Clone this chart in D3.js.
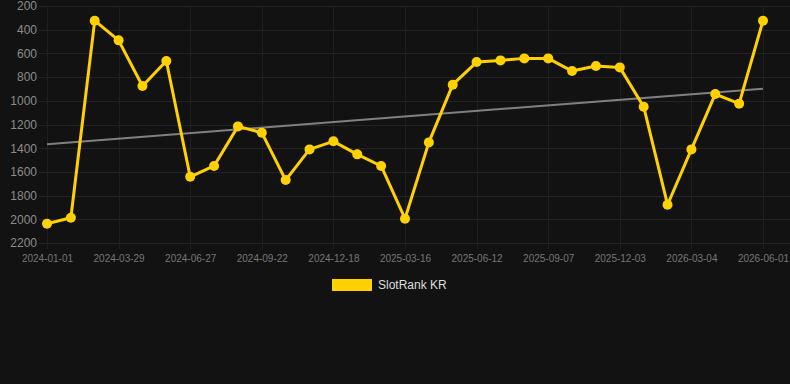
<!DOCTYPE html>
<html>
<head>
<meta charset="utf-8">
<script src="https://cdn.jsdelivr.net/npm/d3@7"></script>
<style>
  html, body { margin: 0; padding: 0; background: #121212; }
  svg { display: block; font-family: "Liberation Sans", Arial, sans-serif; }
</style>
</head>
<body>
<div id="chart"></div>
<script>
// SlotRank KR - monthly rank (lower is better, axis reversed)

const width = 790;
const height = 384;

// 31 monthly points, only every third one is labelled on the axis
const tickLabels = ["2024-01-01", "2024-03-29", "2024-06-27", "2024-09-22", "2024-12-18",
    "2025-03-16", "2025-06-12", "2025-09-07", "2025-12-03", "2026-03-04", "2026-06-01"];
const rankValues = [2037, 1987, 324, 490, 875, 664, 1641, 1550, 1216, 1269,
    1669, 1410, 1342, 1452, 1550, 1995, 1351, 864, 673, 659,
    642, 642, 749, 706, 718, 1050, 1877, 1410, 943, 1024, 324];
const yTicks = [200, 400, 600, 800, 1000, 1200, 1400, 1600, 1800, 2000, 2200];
const seriesName = "SlotRank KR";

const plot = {left: 47, right: 763, top: 6, bottom: 243};

const svg = d3.select("#chart")
    .append("svg")
    .attr("width", width)
    .attr("height", height);

svg.append("rect")
    .attr("width", width)
    .attr("height", height)
    .attr("fill", "#121212");

const indices = d3.range(rankValues.length);

const xScale = d3.scalePoint()
    .domain(indices)
    .range([plot.left, plot.right]);

const yScale = d3.scaleLinear()
    .domain([200, 2200])
    .range([plot.top, plot.bottom]);

// grid
svg.append("g")
    .selectAll("line")
    .data(yTicks)
    .join("line")
    .attr("x1", plot.left - 8)
    .attr("x2", width)
    .attr("y1", d => Math.round(yScale(d)) + 0.5)
    .attr("y2", d => Math.round(yScale(d)) + 0.5)
    .attr("stroke", "#232323")
    .attr("stroke-width", 1);

const tickIdx = indices.filter(i => i % 3 === 0);

svg.append("g")
    .selectAll("line")
    .data(tickIdx)
    .join("line")
    .attr("x1", d => Math.round(xScale(d)) + 0.5)
    .attr("x2", d => Math.round(xScale(d)) + 0.5)
    .attr("y1", plot.top)
    .attr("y2", plot.bottom + 6)
    .attr("stroke", "#1f1f1f")
    .attr("stroke-width", 1);

// y axis labels
const yAxis = svg.append("g")
    .attr("transform", `translate(${plot.left - 10}, 0)`)
    .call(d3.axisLeft(yScale).tickValues(yTicks).tickSize(0).tickFormat(d3.format("d")));
yAxis.select(".domain").remove();
yAxis.selectAll("text")
    .attr("fill", "#8c8c8c")
    .attr("font-size", 12)
    .attr("x", 0);

// x axis labels
const xAxis = svg.append("g")
    .attr("transform", `translate(0, ${plot.bottom + 6})`)
    .call(d3.axisBottom(xScale).tickValues(tickIdx).tickSize(0)
        .tickFormat(d => tickLabels[d / 3]));
xAxis.select(".domain").remove();
xAxis.selectAll("text")
    .attr("fill", "#767676")
    .attr("font-size", 10)
    .attr("y", 6);

// trend line (least squares over the series)
const n = rankValues.length;
const meanX = d3.mean(indices);
const meanY = d3.mean(rankValues);
const slope = d3.sum(indices, i => (i - meanX) * (rankValues[i] - meanY)) /
    d3.sum(indices, i => (i - meanX) ** 2);
const trend = i => meanY + slope * (i - meanX);

svg.append("line")
    .attr("x1", xScale(0))
    .attr("x2", xScale(n - 1))
    .attr("y1", yScale(trend(0)))
    .attr("y2", yScale(trend(n - 1)))
    .attr("stroke", "#808080")
    .attr("stroke-width", 2);

// series
const line = d3.line()
    .x(i => xScale(i))
    .y(i => yScale(rankValues[i]));

svg.append("path")
    .datum(indices)
    .attr("d", line)
    .attr("fill", "none")
    .attr("stroke", "#ffd100")
    .attr("stroke-width", 3)
    .attr("stroke-linejoin", "round");

svg.append("g")
    .selectAll("circle")
    .data(indices)
    .join("circle")
    .attr("cx", i => xScale(i))
    .attr("cy", i => yScale(rankValues[i]))
    .attr("r", 5)
    .attr("fill", "#ffd100");

// legend
const legend = svg.append("g").attr("transform", "translate(332, 279)");
legend.append("rect")
    .attr("width", 40)
    .attr("height", 12)
    .attr("fill", "#ffd100");
legend.append("text")
    .attr("x", 46)
    .attr("y", 6)
    .attr("dy", "0.35em")
    .attr("font-size", 12)
    .attr("fill", "#dddddd")
    .text(seriesName);
</script>
</body>
</html>
